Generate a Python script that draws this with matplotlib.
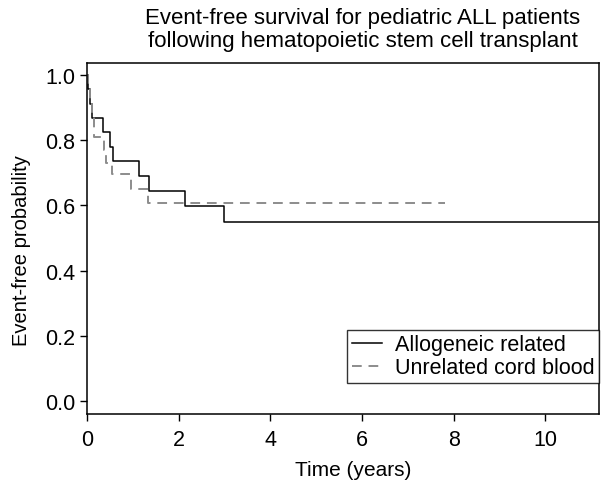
import numpy as np
import matplotlib
matplotlib.use('Agg')
import matplotlib.pyplot as plt

plt.rcParams['font.family'] = ['Liberation Sans', 'DejaVu Sans']

# Kaplan-Meier estimates (time in years, survival)
allo_t = [0, 0.03, 0.06, 0.10, 0.35, 0.50, 0.57, 1.13, 1.35, 2.13, 2.99, 11.15]
allo_s = [1.0, 0.957, 0.913, 0.868, 0.827, 0.779, 0.738, 0.690, 0.645, 0.597, 0.550, 0.550]

cord_t = [0, 0.03, 0.06, 0.10, 0.15, 0.38, 0.42, 0.55, 0.95, 1.34, 7.80]
cord_s = [1.0, 0.96, 0.92, 0.88, 0.81, 0.77, 0.73, 0.697, 0.650, 0.608, 0.608]

labels = ['Allogeneic related', 'Unrelated cord blood']
xticks = [0, 2, 4, 6, 8, 10]
yticks = [0.0, 0.2, 0.4, 0.6, 0.8, 1.0]

fig = plt.figure(figsize=(6.15, 4.81), dpi=100)
ax = fig.add_axes([87 / 615, 1 - 414.7 / 481, (599 - 87) / 615, (414.7 - 64) / 481])

ax.step(allo_t, allo_s, where='post', color='black', lw=1.1, label=labels[0])
ax.step(cord_t, cord_s, where='post', color='#8c8c8c', lw=1.4,
        linestyle=(0, (5, 3.5)), label=labels[1])

ax.set_xlim(0, 11.17)
ax.set_ylim(-0.04, 1.038)
ax.set_xticks(xticks)
ax.set_yticks(yticks)
ax.set_yticklabels([f'{v:.1f}' for v in yticks])
ax.tick_params(labelsize=15.5, length=5, width=1, direction='out')
ax.tick_params(axis='x', pad=6)
for sp in ax.spines.values():
    sp.set_linewidth(1.1)

ax.set_xlabel('Time (years)', fontsize=15, labelpad=7, x=0.52)
ax.set_ylabel('Event-free probability', fontsize=14.5, labelpad=10, y=0.469)
ax.set_title('Event-free survival for pediatric ALL patients\n'
             'following hematopoietic stem cell transplant',
             fontsize=16, pad=12, linespacing=1.15, x=0.539)

leg = ax.legend(loc='lower right', fontsize=15.5, frameon=True, fancybox=False,
                borderaxespad=0, bbox_to_anchor=(1.0, 0.087),
                handlelength=1.4, handletextpad=0.6, borderpad=0.22,
                labelspacing=0.1)
leg.get_frame().set_edgecolor('black')
leg.get_frame().set_linewidth(1.0)

fig.savefig('out.png', dpi=100)
